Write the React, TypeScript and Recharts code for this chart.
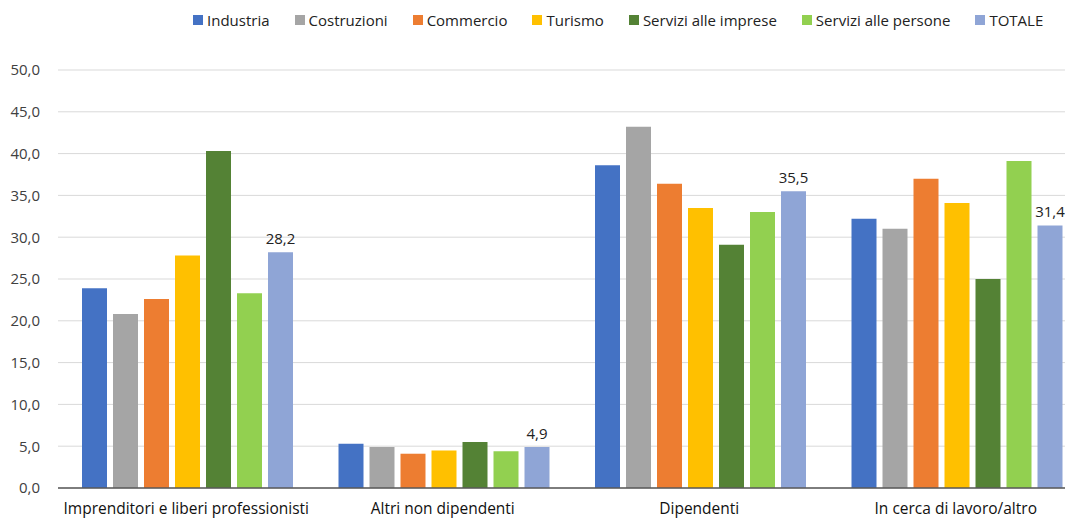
import React from 'react';
import { BarChart, Bar, XAxis, YAxis, CartesianGrid, Legend, LabelList } from 'recharts';

const categories = [
  'Imprenditori e liberi professionisti',
  'Altri non dipendenti',
  'Dipendenti',
  'In cerca di lavoro/altro',
];

const industria = [23.9, 5.3, 38.6, 32.2];
const costruzioni = [20.8, 4.9, 43.2, 31.0];
const commercio = [22.6, 4.1, 36.4, 37.0];
const turismo = [27.8, 4.5, 33.5, 34.1];
const serviziImprese = [40.3, 5.5, 29.1, 25.0];
const serviziPersone = [23.3, 4.4, 33.0, 39.1];
const totale = [28.2, 4.9, 35.5, 31.4];

const yTicks = [0, 5, 10, 15, 20, 25, 30, 35, 40, 45, 50];

const series = [
  { key: 'industria', name: 'Industria', color: '#4472C4', values: industria },
  { key: 'costruzioni', name: 'Costruzioni', color: '#A5A5A5', values: costruzioni },
  { key: 'commercio', name: 'Commercio', color: '#ED7D31', values: commercio },
  { key: 'turismo', name: 'Turismo', color: '#FFC000', values: turismo },
  { key: 'serviziImprese', name: 'Servizi alle imprese', color: '#548235', values: serviziImprese },
  { key: 'serviziPersone', name: 'Servizi alle persone', color: '#92D050', values: serviziPersone },
  { key: 'totale', name: 'TOTALE', color: '#8FA5D6', values: totale },
];

const data = categories.map((name, i) => {
  const row: Record<string, string | number> = { name };
  series.forEach(s => { row[s.key] = s.values[i]; });
  return row;
});

const fmt = (v: number) => v.toFixed(1).replace('.', ',');

const FONT = '"Open Sans", sans-serif';

const renderLegend = () => (
  <div style={{ display: 'flex', gap: 25, fontFamily: FONT, fontSize: 15, color: '#222', whiteSpace: 'nowrap' }}>
    {series.map(s => (
      <div key={s.key} style={{ display: 'flex', alignItems: 'center' }}>
        <span style={{ width: 10, height: 10, background: s.color, display: 'inline-block', marginRight: 4 }} />
        <span>{s.name}</span>
      </div>
    ))}
  </div>
);

export default function App() {
  return (
    <div style={{ position: 'absolute', left: 0, top: 0, width: 1065, height: 520, overflow: 'hidden', background: '#fff' }}>
      <BarChart
        width={1084}
        height={520}
        data={data}
        margin={{ top: 50, right: 0, left: 0, bottom: 0 }}
        barCategoryGap={24}
        barGap={6}
      >
        <CartesianGrid vertical={false} stroke="#D9D9D9" strokeWidth={1} />
        <XAxis
          dataKey="name"
          tickLine={false}
          axisLine={{ stroke: '#595959', strokeWidth: 1.5 }}
          tick={{ fill: '#111', fontSize: 15.5, fontFamily: FONT }}
          tickMargin={9}
          height={32}
          interval={0}
        />
        <YAxis
          domain={[0, 50]}
          ticks={yTicks}
          tickFormatter={fmt}
          tickLine={false}
          axisLine={false}
          tick={{ fill: '#404040', fontSize: 15, fontFamily: FONT }}
          width={58}
          tickMargin={12}
        />
        <Legend verticalAlign="top" align="left" wrapperStyle={{ left: 193, top: 10 }} content={renderLegend} />
        {series.map(s => (
          <Bar key={s.key} dataKey={s.key} name={s.name} fill={s.color} isAnimationActive={false}>
            {s.key === 'totale' && (
              <LabelList
                dataKey="totale"
                position="top"
                offset={8}
                formatter={(v: number) => fmt(v)}
                style={{ fill: '#222', fontSize: 15, fontFamily: FONT }}
              />
            )}
          </Bar>
        ))}
      </BarChart>
    </div>
  );
}
